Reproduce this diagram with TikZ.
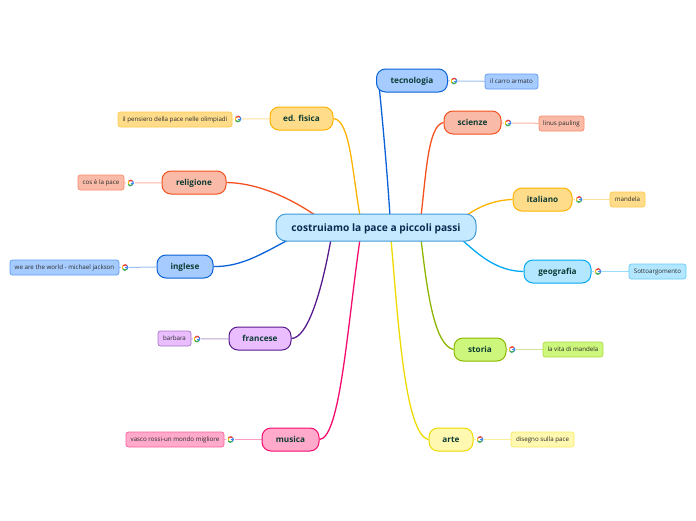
\documentclass[tikz,border=0pt]{standalone}
\usepackage{fontspec}
\setmainfont{Open Sans}
\pgfdeclarelayer{bg}\pgfsetlayers{bg,main}
\definecolor{bluef}{HTML}{A6CBFF}\definecolor{blues}{HTML}{0A62D8}
\definecolor{redf}{HTML}{F9BBA8}\definecolor{reds}{HTML}{F4511E}
\definecolor{orf}{HTML}{FFDC8A}\definecolor{ors}{HTML}{FFB300}
\definecolor{skyf}{HTML}{B3E7FF}\definecolor{skys}{HTML}{03A9F4}
\definecolor{grnf}{HTML}{CDF77C}\definecolor{grns}{HTML}{8DB600}
\definecolor{yelf}{HTML}{FFF8B0}\definecolor{yels}{HTML}{EFDA00}
\definecolor{purf}{HTML}{EABDFF}\definecolor{purs}{HTML}{561A8C}
\definecolor{pinkf}{HTML}{FFA9CB}\definecolor{pinks}{HTML}{F50A6E}
\definecolor{rootf}{HTML}{C5E9FF}\definecolor{roots}{HTML}{3E9AD6}
\definecolor{topict}{HTML}{0C3B33}\definecolor{roott}{HTML}{0B2A50}\definecolor{leaft}{HTML}{2A2A2A}
\definecolor{gr}{HTML}{EA4335}\definecolor{gy}{HTML}{FBBC05}\definecolor{gg}{HTML}{34A853}\definecolor{gb}{HTML}{4285F4}
\tikzset{
  x=1pt,y=-1pt,
  root/.style={draw=roots,fill=rootf,line width=1pt,rounded corners=10pt,inner sep=0pt,
    minimum width=200pt,minimum height=27pt,text=roott,text height=9pt,text depth=2pt,font=\fontsize{10.2}{12}\selectfont\bfseries},
  topic/.style={draw=#1s,fill=#1f,line width=1pt,rounded corners=9pt,inner sep=0pt,
    minimum height=23pt,text=topict,text height=8pt,text depth=1.7pt,font=\fontsize{8.2}{10}\selectfont\bfseries},
  leaf/.style={draw=#1s!45!#1f,fill=#1f,line width=.7pt,rounded corners=2.5pt,inner sep=0pt,
    minimum height=15pt,text=leaft,text height=4.8pt,text depth=1.2pt,font=\fontsize{6.2}{7.5}\selectfont},
  branch/.style={draw=#1s,line width=1.3pt},
  twig/.style={draw=#1s!40!white,line width=1pt},
  gicon/.style={circle,fill=white,inner sep=0pt,minimum size=8pt,
    path picture={
      \coordinate (gc) at (path picture bounding box.center);
      \draw[line width=1.3pt,draw=gr] (gc)+(215:2.7) arc[start angle=215,end angle=320,radius=2.7];
      \draw[line width=1.3pt,draw=gy] (gc)+(145:2.7) arc[start angle=145,end angle=215,radius=2.7];
      \draw[line width=1.3pt,draw=gg] (gc)+(35:2.7) arc[start angle=35,end angle=145,radius=2.7];
      \draw[line width=1.3pt,draw=gb] (gc)+(-40:2.7) arc[start angle=-40,end angle=35,radius=2.7];
      \draw[line width=1pt,draw=gb] (gc) -- +(2.7,0);
    }},
}
\begin{document}
\begin{tikzpicture}
\useasboundingbox (0,0) rectangle (696,520);
\coordinate (atec) at (390,216);
\coordinate (asci) at (421,216);
\coordinate (aita) at (467,215);
\coordinate (ageo) at (461,239);
\coordinate (asto) at (421,239);
\coordinate (aart) at (391,239);
\coordinate (aedf) at (360,216);
\coordinate (arel) at (315,215);
\coordinate (aing) at (288,240);
\coordinate (afra) at (331,239);
\coordinate (amus) at (360,239);
\coordinate (etec) at (379,85);
\node[root] (root) at (376,227.5) {costruiamo la pace a piccoli passi};
\node[topic=blue,minimum width=71pt] (tec) at (412,80.5) {tecnologia};
\node[topic=red,minimum width=57pt] (sci) at (472.5,122.5) {scienze};
\node[topic=or,minimum width=59pt] (ita) at (542.5,199.5) {italiano};
\node[topic=sky,minimum width=67pt] (geo) at (557.5,271.5) {geografia};
\node[topic=grn,minimum width=52pt] (sto) at (480,349.5) {storia};
\node[topic=yel,minimum width=44pt] (art) at (451,439.5) {arte};
\node[topic=or,minimum width=63pt] (edf) at (301.5,118.5) {ed. fisica};
\node[topic=red,minimum width=64pt] (rel) at (194,182.5) {religione};
\node[topic=blue,minimum width=56pt] (ing) at (185,266.5) {inglese};
\node[topic=pur,minimum width=62pt] (fra) at (260,338.5) {francese};
\node[topic=pink,minimum width=57pt] (mus) at (290.5,439.5) {musica};
\node[leaf=blue,minimum width=53pt] (ltec) at (511.5,81.5) {il carro armato};
\node[leaf=red,minimum width=45pt] (lsci) at (561.5,123.5) {linus pauling};
\node[leaf=or,minimum width=35pt] (lita) at (627.5,199.5) {mandela};
\node[leaf=sky,minimum width=57pt] (lgeo) at (657.5,271.5) {Sottoargomento};
\node[leaf=grn,minimum width=60pt] (lsto) at (573,349.5) {la vita di mandela};
\node[leaf=yel,minimum width=63pt] (lart) at (542.5,439.5) {disegno sulla pace};
\node[leaf=or,minimum width=114pt] (ledf) at (175,119.5) {il pensiero della pace nelle olimpiadi};
\node[leaf=red,minimum width=46pt] (lrel) at (101,182.5) {cos è la pace};
\node[leaf=blue,minimum width=109pt] (ling) at (64.5,267.5) {we are the world - michael jackson};
\node[leaf=pur,minimum width=33pt] (lfra) at (174.5,338.5) {barbara};
\node[leaf=pink,minimum width=98pt] (lmus) at (175,439.5) {vasco rossi-un mondo migliore};
\node[gicon] (gtec) at (454,81) {};
\node[gicon] (gsci) at (508,123) {};
\node[gicon] (gita) at (579,199.5) {};
\node[gicon] (ggeo) at (598,271.5) {};
\node[gicon] (gsto) at (512,349.5) {};
\node[gicon] (gart) at (480,439.5) {};
\node[gicon] (gedf) at (238,119) {};
\node[gicon] (grel) at (130.5,183) {};
\node[gicon] (ging) at (125,267.5) {};
\node[gicon] (gfra) at (197,339) {};
\node[gicon] (gmus) at (230.5,439.5) {};
\begin{pgfonlayer}{bg}
\draw[branch=blue] (atec) .. controls (387,170) and (383,125) .. (etec);
\draw[branch=red] (asci) .. controls (426,175) and (428,125) .. (sci.west);
\draw[branch=or] (aita) .. controls (480,206) and (495,200) .. (ita.west);
\draw[branch=sky] (ageo) .. controls (480,256) and (497,271) .. (geo.west);
\draw[branch=grn] (asto) .. controls (427,290) and (434,345) .. (sto.west);
\draw[branch=yel] (aart) .. controls (398,320) and (405,435) .. (art.west);
\draw[branch=or] (aedf) .. controls (352,170) and (350,120) .. (edf.east);
\draw[branch=red] (arel) .. controls (285,195) and (255,183) .. (rel.east);
\draw[branch=blue] (aing) .. controls (260,255) and (240,267) .. (ing.east);
\draw[branch=pur] (afra) .. controls (322,290) and (308,338) .. (fra.east);
\draw[branch=pink] (amus) .. controls (347,330) and (340,438) .. (mus.east);
\foreach \t/\g/\l/\c in {tec/gtec/ltec/blue,sci/gsci/lsci/red,ita/gita/lita/or,geo/ggeo/lgeo/sky,sto/gsto/lsto/grn,art/gart/lart/yel,edf/gedf/ledf/or,rel/grel/lrel/red,ing/ging/ling/blue,fra/gfra/lfra/pur,mus/gmus/lmus/pink}{
  \draw[twig=\c] (\t) -- (\g);
  \draw[twig=\c] (\g) -- (\l);
}
\end{pgfonlayer}
\end{tikzpicture}
\end{document}
